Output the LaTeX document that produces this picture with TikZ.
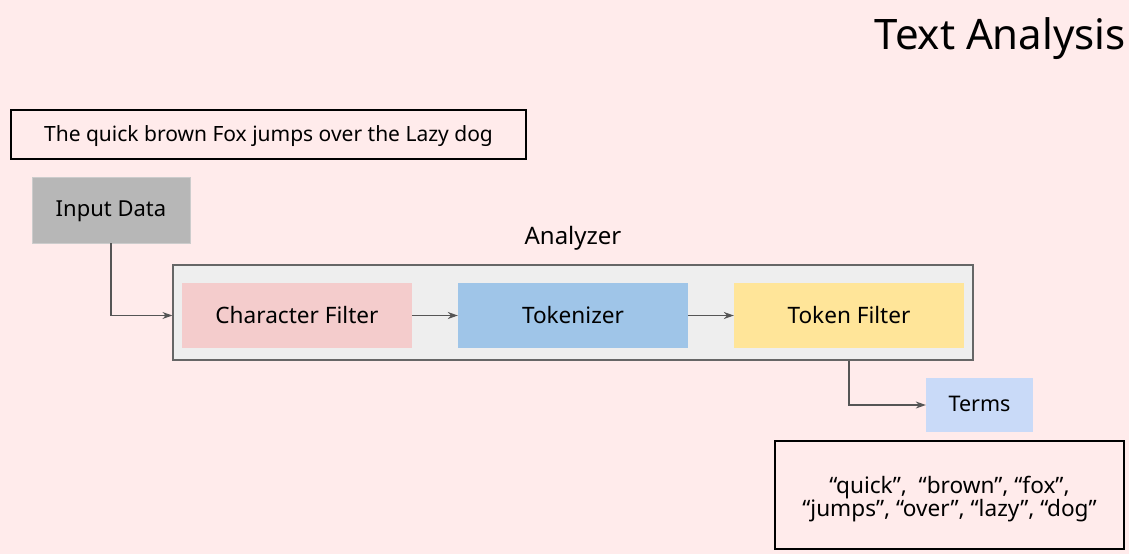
\documentclass[tikz,border=0pt]{standalone}
\usepackage{fontspec}
\setmainfont{Noto Sans}
\usetikzlibrary{arrows.meta}
\definecolor{bg}{RGB}{255,235,235}
\definecolor{grayfill}{RGB}{183,183,183}
\definecolor{anfill}{RGB}{238,238,238}
\definecolor{anedge}{RGB}{102,102,102}
\definecolor{cfill}{RGB}{244,204,204}
\definecolor{tfill}{RGB}{159,197,232}
\definecolor{ffill}{RGB}{255,229,153}
\definecolor{termfill}{RGB}{201,218,248}
\definecolor{arr}{RGB}{85,85,85}
\tikzset{
  txt/.style={font=\fontsize{21}{27}\selectfont, text=black},
  big/.style={font=\fontsize{22.6}{27}\selectfont, text=black},
  conn/.style={draw=arr, line width=1.1pt, -{Stealth[length=10pt,width=7pt]}},
}
\begin{document}
\begin{tikzpicture}[x=1pt,y=-1pt]
\fill[bg] (0,0) rectangle (1129,554);
\useasboundingbox (0,0) rectangle (1129,554);
\node[anchor=base east, font=\fontsize{42}{48}\selectfont, inner xsep=0pt] (title) at (1126,49) {Text Analysis};
\node[txt, draw=black, line width=1.2pt, minimum width=515pt, minimum height=49pt, inner sep=0pt, text depth=1pt] (sent) at (268.5,134.5) {The quick brown Fox jumps over the Lazy dog};
\node[font=\fontsize{22}{27}\selectfont, fill=grayfill, draw=black!20, minimum width=158pt, minimum height=66pt, inner sep=0pt, text depth=2pt] (input) at (111,210) {Input Data};
\node[font=\fontsize{24}{28}\selectfont] (anlabel) at (573,238) {Analyzer};
\node[fill=anfill, draw=anedge, line width=1.2pt, minimum width=800pt, minimum height=95pt, inner sep=0pt] (an) at (573,312.5) {};
\node[big, fill=cfill, minimum width=230pt, minimum height=65pt, inner sep=0pt, text depth=2pt] (cf) at (297,315.5) {Character Filter};
\node[big, fill=tfill, minimum width=230pt, minimum height=65pt, inner sep=0pt, text depth=2pt] (tok) at (573,315.5) {Tokenizer};
\node[big, fill=ffill, minimum width=230pt, minimum height=65pt, inner sep=0pt, text depth=2pt] (tf) at (849,315.5) {Token Filter};
\node[font=\fontsize{21.5}{27}\selectfont, fill=termfill, minimum width=107pt, minimum height=54pt, inner sep=0pt, text depth=2pt] (terms) at (979.5,405) {Terms};
\node[draw=black, line width=1.2pt, minimum width=349pt, minimum height=108pt, inner sep=0pt] (listbox) at (949.5,495) {};
\node[big, align=center] (list) at (949.5,499) {“quick”,\ \ “brown”, “fox”,\\[-4pt]“jumps”, “over”, “lazy”, “dog”};
\draw[conn] (input.south) |- (an.west |- cf.west);
\draw[conn] (cf.east) -- (tok.west);
\draw[conn] (tok.east) -- (tf.west);
\draw[conn] (an.south -| tf.south) |- (terms.west);
\end{tikzpicture}
\end{document}
